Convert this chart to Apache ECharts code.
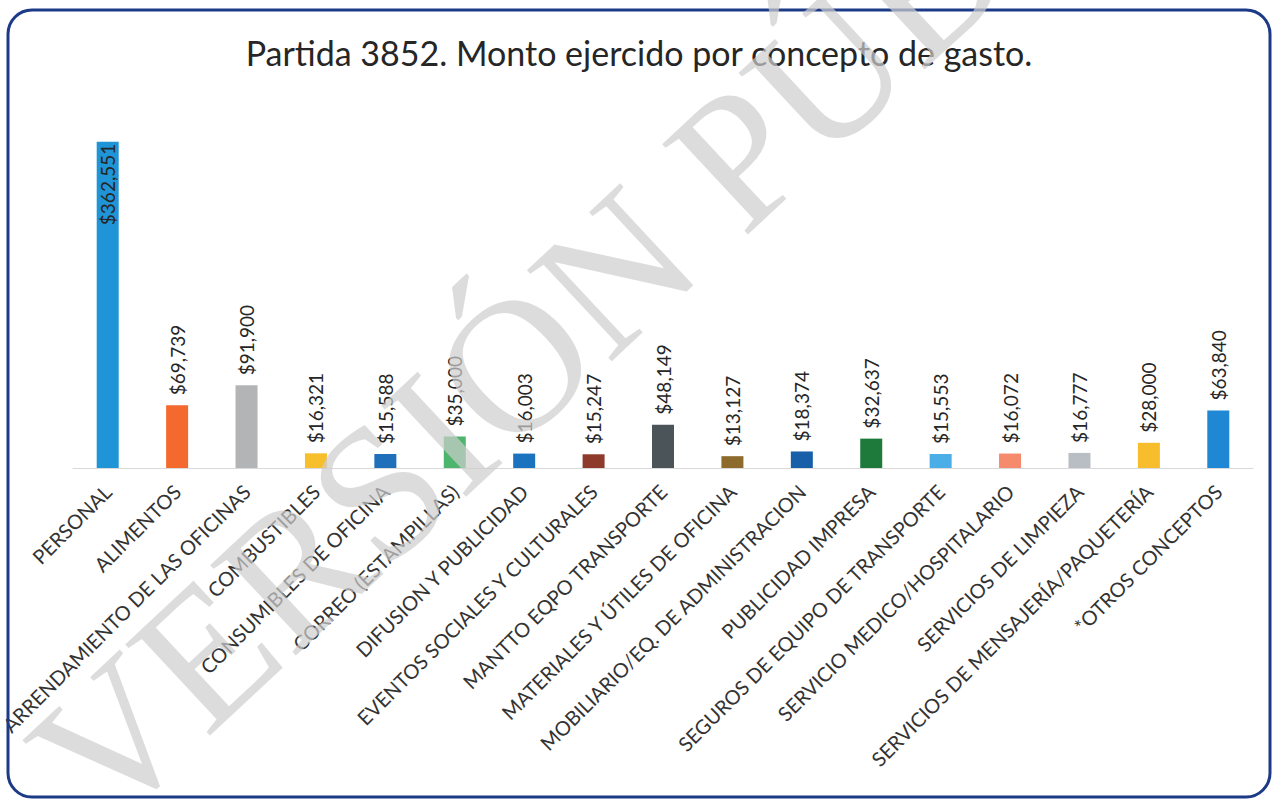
<!DOCTYPE html>
<html>
<head>
<meta charset="utf-8">
<script src="https://cdn.jsdelivr.net/npm/echarts@6/dist/echarts.min.js"></script>
<style>
  html, body { margin: 0; padding: 0; background: #fff; }
  #chart { width: 1278px; height: 801px; }
</style>
</head>
<body>
<div id="chart"></div>
<script>
const chartDom = document.getElementById("chart");
const chart = echarts.init(chartDom, null, { renderer: "svg" });

const titleText = "Partida 3852. Monto ejercido por concepto de gasto.";

const categories = [
  "PERSONAL",
  "ALIMENTOS",
  "ARRENDAMIENTO DE LAS OFICINAS",
  "COMBUSTIBLES",
  "CONSUMIBLES DE OFICINA",
  "CORREO (ESTAMPILLAS)",
  "DIFUSION Y PUBLICIDAD",
  "EVENTOS SOCIALES Y CULTURALES",
  "MANTTO EQPO TRANSPORTE",
  "MATERIALES Y ÚTILES DE OFICINA",
  "MOBILIARIO/EQ. DE ADMINISTRACION",
  "PUBLICIDAD IMPRESA",
  "SEGUROS DE EQUIPO DE TRANSPORTE",
  "SERVICIO MEDICO/HOSPITALARIO",
  "SERVICIOS DE LIMPIEZA",
  "SERVICIOS DE MENSAJERÍA/PAQUETERÍA",
  "*OTROS CONCEPTOS",
];

const amounts = [
  362551, 69739, 91900, 16321, 15588, 35000, 16003, 15247, 48149,
  13127, 18374, 32637, 15553, 16072, 16777, 28000, 63840,
];

const barColors = [
  "#1f94d6", "#f4692d", "#b2b4b6", "#f6bf2b", "#1f6fba", "#4db56c",
  "#1b72bf", "#8e3b2b", "#4b5559", "#8c6b2c", "#185fa9", "#1d7a3b",
  "#4caee6", "#f58a6c", "#b9bdc4", "#f7bd2c", "#1f87d3",
];

const watermark = "VERSIÓN PÚBLICA";

function money(v) {
  return "$" + v.toLocaleString("en-US");
}

const barData = amounts.map((v, i) => {
  const item = { value: v, itemStyle: { color: barColors[i] } };
  // the tallest bar carries its label inside, like the original
  if (i === 0) {
    item.label = { position: "insideTop", align: "right", distance: 2 };
  }
  return item;
});

const option = {
  backgroundColor: "#fff",
  title: {
    text: titleText,
    left: "center",
    top: 30,
    textStyle: {
      fontFamily: "Lato",
      fontSize: 34,
      fontWeight: "normal",
      color: "#262626",
    },
  },
  grid: {
    left: 73,
    right: 25,
    top: 108,
    bottom: 333,
    containLabel: false,
    outerBoundsMode: "none",
  },
  xAxis: {
    type: "category",
    data: categories,
    axisLine: { show: true, lineStyle: { color: "#d9d9d9", width: 1 } },
    axisTick: { show: false },
    axisLabel: {
      rotate: 45,
      interval: 0,
      margin: 20,
      fontFamily: "Lato",
      fontSize: 20,
      color: "#333",
    },
  },
  yAxis: {
    type: "value",
    min: 0,
    max: 400000,
    show: false,
    splitLine: { show: false },
  },
  series: [
    {
      type: "bar",
      data: barData,
      barWidth: 22,
      label: {
        show: true,
        position: "top",
        rotate: 90,
        align: "left",
        verticalAlign: "middle",
        distance: 10,
        fontFamily: "Lato",
        fontSize: 19,
        color: "#262626",
        formatter: (p) => money(p.value),
      },
    },
  ],
  graphic: [
    {
      type: "rect",
      shape: { x: 8, y: 10, width: 1262, height: 787, r: 24 },
      style: { fill: "none", stroke: "#1d3a86", lineWidth: 3 },
      z: 10,
    },
    {
      type: "text",
      x: 62,
      y: 786,
      rotation: 0.75,
      style: {
        text: watermark,
        font: "190px 'Liberation Serif'",
        fill: "rgba(205,205,205,0.7)",
        textVerticalAlign: "middle",
      },
      z: 20,
    },
  ],
};

chart.setOption(option);

window.addEventListener("resize", function () {
  chart.resize();
});
</script>
</body>
</html>
